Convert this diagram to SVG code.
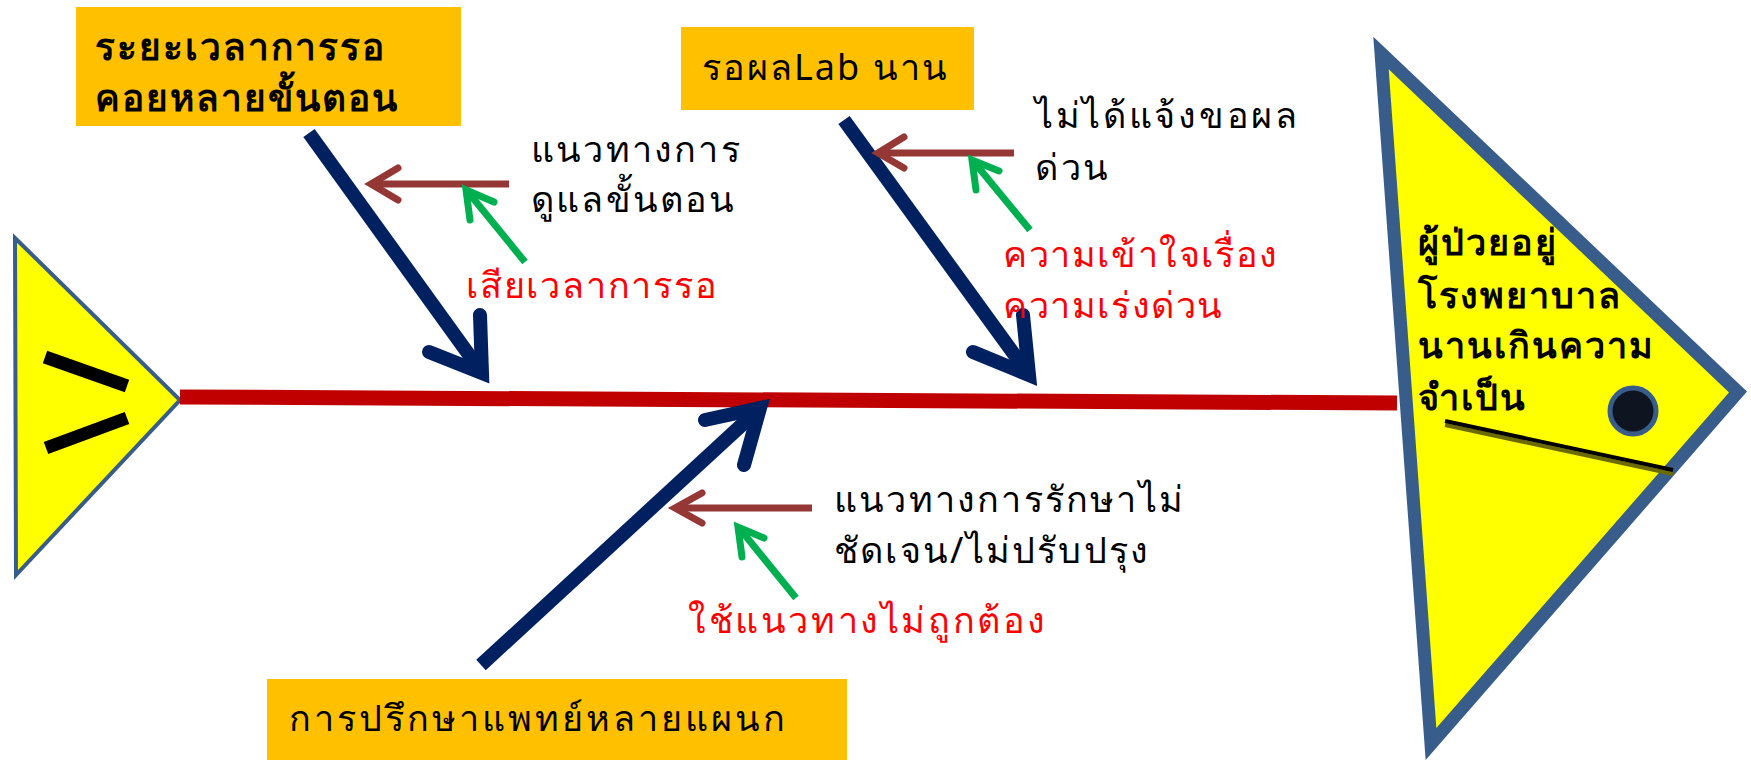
<svg xmlns="http://www.w3.org/2000/svg" width="1751" height="760" viewBox="0 0 1751 760">
<style>
.box{fill:#ffc000}
.bt{font-family:"Noto Sans",sans-serif;font-size:37px;font-weight:bold;fill:#000;letter-spacing:2px}
.nt{font-family:"Noto Sans",sans-serif;font-size:36px;fill:#000;letter-spacing:2.2px}
.rt{font-family:"Noto Sans",sans-serif;font-size:36px;fill:#ff0000;letter-spacing:2.2px}
.ht{font-family:"Noto Sans",sans-serif;font-size:36px;font-weight:bold;fill:#000;letter-spacing:2px}
.navy{stroke:#002060;stroke-width:14;fill:none}
.navyh{stroke:#002060;stroke-width:14;fill:none;stroke-linecap:round;stroke-linejoin:miter;stroke-miterlimit:10}
.brown{stroke:#953735;stroke-width:7;fill:none}
.brownh{stroke:#953735;stroke-width:7;fill:none;stroke-linecap:round;stroke-linejoin:miter}
.green{stroke:#00b050;stroke-width:7;fill:none}
.greenh{stroke:#00b050;stroke-width:7;fill:none;stroke-linecap:round;stroke-linejoin:miter}
.fish{fill:#ffff00;stroke:#385d8a}
</style>
<g id="tail">
<polygon class="fish" stroke-width="4" points="15,238 180,400 16,575"/>
<line x1="45" y1="357" x2="127" y2="386" stroke="#000" stroke-width="13"/>
<line x1="46" y1="448" x2="127" y2="418" stroke="#000" stroke-width="13"/>
</g>
<g id="head">
<polygon class="fish" stroke-width="13" points="1381,53 1738,392 1431,744"/>
<circle cx="1633" cy="411" r="23" fill="#0f1520" stroke="#385d8a" stroke-width="5"/>
<line x1="1445" y1="425" x2="1673" y2="474" stroke="#6b6b00" stroke-width="4"/>
<line x1="1445" y1="421" x2="1673" y2="470" stroke="#000" stroke-width="4"/>
<text class="ht" x="1418" y="255">ผู้ป่วยอยู่</text>
<text class="ht" x="1418" y="308">โรงพยาบาล</text>
<text class="ht" x="1418" y="358">นานเกินความ</text>
<text class="ht" x="1418" y="410">จำเป็น</text>
</g>
<g id="connectors">
<line x1="180" y1="397" x2="1397" y2="403" stroke="#c00000" stroke-width="15"/>
<line class="navy" x1="309" y1="133" x2="480" y2="370"/>
<polyline class="navyh" points="429,352 482,373 480,315"/>
<line class="navy" x1="844" y1="120" x2="1027" y2="372"/>
<polyline class="navyh" points="973,352 1029,375 1023,315"/>
<line class="navy" x1="481" y1="665" x2="758" y2="410"/>
<polyline class="navyh" points="705,420 760,408 744,465"/>
<line class="brown" x1="509" y1="184" x2="373" y2="184"/>
<polyline class="brownh" points="398,168 371,184 398,200"/>
<line class="green" x1="525" y1="262" x2="468" y2="192"/>
<polyline class="greenh" points="470,220 466,190 494,202"/>
<line class="brown" x1="1014" y1="153" x2="880" y2="153"/>
<polyline class="brownh" points="904,137 878,153 904,168"/>
<line class="green" x1="1030" y1="230" x2="974" y2="162"/>
<polyline class="greenh" points="976,190 972,160 999,171"/>
<line class="brown" x1="812" y1="508" x2="677" y2="508"/>
<polyline class="brownh" points="702,493 675,508 702,523"/>
<line class="green" x1="796" y1="598" x2="740" y2="529"/>
<polyline class="greenh" points="742,557 738,527 764,538"/>
</g>
<g id="cause1">
<rect class="box" x="76" y="7" width="385" height="119"/>
<text class="bt" x="95" y="60">ระยะเวลาการรอ</text>
<text class="bt" x="95" y="111">คอยหลายขั้นตอน</text>
</g>
<g id="cause2">
<rect class="box" x="681" y="27" width="293" height="83"/>
<text class="nt" x="702" y="80" style="letter-spacing:2px">รอผลLab นาน</text>
</g>
<g id="cause3">
<rect class="box" x="267" y="679" width="580" height="81"/>
<text class="nt" x="289" y="731" style="letter-spacing:3px">การปรึกษาแพทย์หลายแผนก</text>
</g>
<g id="sub1">
<text class="nt" x="531" y="162">แนวทางการ</text>
<text class="nt" x="531" y="212">ดูแลขั้นตอน</text>
<text class="rt" x="466" y="298" style="letter-spacing:1.8px">เสียเวลาการรอ</text>
</g>
<g id="sub2">
<text class="nt" x="1035" y="128" style="letter-spacing:2.7px">ไม่ได้แจ้งขอผล</text>
<text class="nt" x="1035" y="180" style="letter-spacing:2.7px">ด่วน</text>
<text class="rt" x="1003" y="267" style="letter-spacing:1.6px">ความเข้าใจเรื่อง</text>
<text class="rt" x="1003" y="318" style="letter-spacing:1.6px">ความเร่งด่วน</text>
</g>
<g id="sub3">
<text class="nt" x="834" y="512">แนวทางการรักษาไม่</text>
<text class="nt" x="834" y="563">ชัดเจน/ไม่ปรับปรุง</text>
<text class="rt" x="688" y="633" style="letter-spacing:2.6px">ใช้แนวทางไม่ถูกต้อง</text>
</g>
</svg>
